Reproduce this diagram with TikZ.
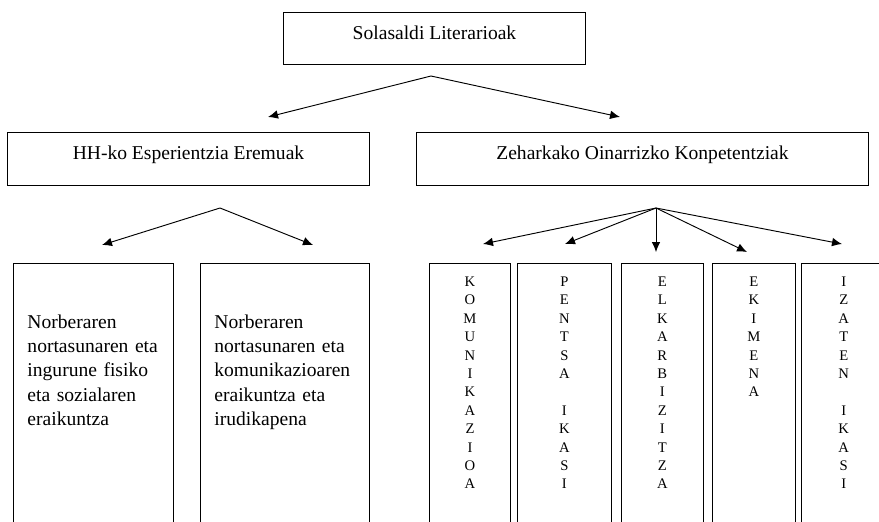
\documentclass[tikz,border=0pt]{standalone}
\usepackage{fontspec}
\setmainfont{Liberation Serif}
\usetikzlibrary{arrows.meta, positioning}

\begin{document}
\begin{tikzpicture}[
    x=0.03cm, y=-0.03cm,
    node distance=0.2cm,
    box/.style={rectangle, draw, line width=0.8pt, inner sep=0pt, font=\fontsize{16.7}{20.7}\selectfont},
    head/.style={box, anchor=north west, text height=0.8cm, text depth=0.78cm},
    area/.style={box, align=left, inner xsep=0.42cm, text height=1.95cm, text depth=8cm},
    skill/.style={box, align=center, text height=0.69cm, text depth=8cm, font=\fontsize{12.5}{15.7}\selectfont},
    arrow/.style={line width=0.8pt, -{Latex[length=0.3cm, width=0.26cm]}}
]
\useasboundingbox (0,0) rectangle (879,521);
\clip (0,0) rectangle (879,521);

\node[head, minimum width=9.06cm, text depth=0.75cm] (title) at (283,12) {Solasaldi Literarioak};
\node[head, minimum width=10.86cm] (hh) at (7,132) {HH-ko Esperientzia Eremuak};
\node[head, minimum width=13.56cm] (zok) at (416,132) {Zeharkako Oinarrizko Konpetentziak};

\node[area, anchor=north west, text width=3.96cm] (norb1) at (13,263) {Norberaren\\nortasunaren eta\\ingurune fisiko\\eta sozialaren\\eraikuntza};
\node[area, text width=4.23cm, right=0.78cm of norb1] (norb2) {Norberaren\\nortasunaren eta\\komunikazioaren\\eraikuntza eta\\irudikapena};

\node[skill, anchor=north west, text width=2.43cm] (komun) at (429,263) {K\\O\\M\\U\\N\\I\\K\\A\\Z\\I\\O\\A};
\node[skill, text width=2.82cm, right=0.18cm of komun] (pentsa) {P\\E\\N\\T\\S\\A\\\mbox{}\\I\\K\\A\\S\\I};
\node[skill, text width=2.46cm, right=0.27cm of pentsa] (elkar) {E\\L\\K\\A\\R\\B\\I\\Z\\I\\T\\Z\\A};
\node[skill, text width=2.49cm, right=0.24cm of elkar] (ekimena) {E\\K\\I\\M\\E\\N\\A};
\node[skill, text width=2.55cm, right=0.15cm of ekimena] (izaten) {I\\Z\\A\\T\\E\\N\\\mbox{}\\I\\K\\A\\S\\I};

\coordinate (titlesplit) at (431,76);
\coordinate (hhtip) at (268,117);
\coordinate (zoktip) at (620,117);
\coordinate (hhsplit) at (220,208);
\coordinate (norb1tip) at (102,245);
\coordinate (norb2tip) at (313,245);
\coordinate (zoksplit) at (656,208);
\coordinate (komuntip) at (483,244);
\coordinate (pentsatip) at (565,244);
\coordinate (elkartip) at (656,252);
\coordinate (ekimenatip) at (747,252);
\coordinate (izatentip) at (842,244);

\draw[arrow] (titlesplit) -- (hhtip);
\draw[arrow] (titlesplit) -- (zoktip);
\draw[arrow] (hhsplit) -- (norb1tip);
\draw[arrow] (hhsplit) -- (norb2tip);
\draw[arrow] (zoksplit) -- (komuntip);
\draw[arrow] (zoksplit) -- (pentsatip);
\draw[arrow] (zoksplit) -- (elkartip);
\draw[arrow] (zoksplit) -- (ekimenatip);
\draw[arrow] (zoksplit) -- (izatentip);

\end{tikzpicture}
\end{document}
